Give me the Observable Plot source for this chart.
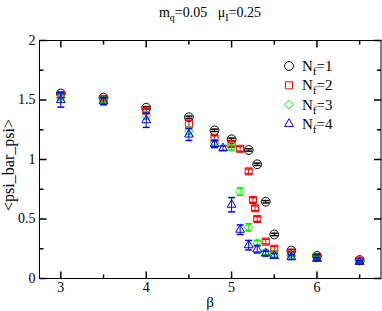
<!DOCTYPE html>
<html><head><meta charset="utf-8">
<script src="https://cdn.jsdelivr.net/npm/d3@7"></script>
<script src="https://cdn.jsdelivr.net/npm/@observablehq/plot@0.6"></script>
<style>body{margin:0;background:#fff} svg{display:block}</style>
</head><body><div id="chart"></div>
<script>
// Nf = 1
const beta1 = [3.0, 3.5, 4.0, 4.5, 4.8, 5.0, 5.2, 5.3, 5.4, 5.5, 5.7, 6.0, 6.5];
const psi1  = [1.555, 1.52, 1.435, 1.355, 1.245, 1.17, 1.08, 0.96, 0.645, 0.37, 0.235, 0.19, 0.155];
const err1  = [0.01, 0.01, 0.01, 0.01, 0.01, 0.01, 0.01, 0.01, 0.01, 0.01, 0.01, 0.01, 0.01];
// Nf = 2
const beta2 = [3.0, 3.5, 4.0, 4.5, 4.8, 5.0, 5.1, 5.2, 5.25, 5.275, 5.3, 5.4, 5.5, 5.7, 6.0, 6.5];
const psi2  = [1.54, 1.51, 1.41, 1.30, 1.18, 1.13, 1.09, 0.90, 0.66, 0.59, 0.50, 0.31, 0.25, 0.21, 0.18, 0.15];
const err2  = [0.02, 0.02, 0.02, 0.03, 0.02, 0.02, 0.02, 0.02, 0.02, 0.02, 0.02, 0.02, 0.02, 0.01, 0.01, 0.01];
// Nf = 3
const beta3 = [3.0, 3.5, 4.0, 4.5, 4.8, 5.0, 5.1, 5.2, 5.3, 5.4, 5.5, 5.7, 6.0, 6.5];
const psi3  = [1.52, 1.50, 1.37, 1.24, 1.14, 1.10, 0.73, 0.43, 0.30, 0.22, 0.20, 0.19, 0.17, 0.145];
const err3  = [0.02, 0.02, 0.03, 0.03, 0.02, 0.02, 0.03, 0.03, 0.02, 0.02, 0.02, 0.01, 0.01, 0.01];
// Nf = 4
const beta4 = [3.0, 3.5, 4.0, 4.5, 4.8, 4.9, 5.0, 5.1, 5.2, 5.3, 5.4, 5.5, 5.7, 6.0, 6.5];
const psi4  = [1.50, 1.49, 1.33, 1.21, 1.13, 1.095, 0.62, 0.41, 0.28, 0.245, 0.21, 0.19, 0.18, 0.165, 0.14];
const err4  = [0.06, 0.03, 0.06, 0.05, 0.03, 0.02, 0.06, 0.04, 0.04, 0.03, 0.02, 0.02, 0.02, 0.01, 0.01];

const seriesNames = ["1", "2", "3", "4"];
const xTicks = [3, 4, 5, 6];
const xMinor = [3.5, 4.5, 5.5, 6.5];
const yTicks = [0, 0.5, 1, 1.5, 2];
const yMinor = [0.25, 0.75, 1.25, 1.75];

const colors = ["#000000", "#ff0000", "#00f000", "#0000ff"];
const symbols = ["circle", "square", "diamond2", "triangle2"];
const radii = [4.4, 4.0, 3.9, 4.2];

const betas = [beta1, beta2, beta3, beta4];
const psis = [psi1, psi2, psi3, psi4];
const errs = [err1, err2, err3, err4];

const seg = (x1, y1, x2, y2) => ({draw(ctx) { ctx.moveTo(x1, y1); ctx.lineTo(x2, y2); }});

const XMIN = 2.75, XMAX = 6.75, YMIN = 0, YMAX = 2;
const MAJ = 7, MIN = 4;
const FONT = "Liberation Serif, serif";

const marks = [];
// ticks (inward, all four sides)
marks.push(Plot.dot(xTicks, {x: d => d, y: YMIN, symbol: seg(0, 0, 0, -MAJ), r: 1, stroke: "black", fill: "none"}));
marks.push(Plot.dot(xMinor, {x: d => d, y: YMIN, symbol: seg(0, 0, 0, -MIN), r: 1, stroke: "black", fill: "none"}));
marks.push(Plot.dot(xTicks, {x: d => d, y: YMAX, symbol: seg(0, 0, 0, MAJ), r: 1, stroke: "black", fill: "none"}));
marks.push(Plot.dot(xMinor, {x: d => d, y: YMAX, symbol: seg(0, 0, 0, MIN), r: 1, stroke: "black", fill: "none"}));
marks.push(Plot.dot(yTicks, {y: d => d, x: XMIN, symbol: seg(0, 0, MAJ, 0), r: 1, stroke: "black", fill: "none"}));
marks.push(Plot.dot(yMinor, {y: d => d, x: XMIN, symbol: seg(0, 0, MIN, 0), r: 1, stroke: "black", fill: "none"}));
marks.push(Plot.dot(yTicks, {y: d => d, x: XMAX, symbol: seg(0, 0, -MAJ, 0), r: 1, stroke: "black", fill: "none"}));
marks.push(Plot.dot(yMinor, {y: d => d, x: XMAX, symbol: seg(0, 0, -MIN, 0), r: 1, stroke: "black", fill: "none"}));

for (let s = 0; s < 4; s++) {
  const data = betas[s].map((b, i) => ({b, v: psis[s][i], e: errs[s][i]}));
  marks.push(Plot.ruleX(data, {x: "b", y1: d => d.v - d.e, y2: d => d.v + d.e, stroke: colors[s], strokeWidth: 1}));
  marks.push(Plot.dot(data, {x: "b", y: d => d.v - d.e, symbol: seg(-3.5, 0, 3.5, 0), r: 1, stroke: colors[s], fill: "none"}));
  marks.push(Plot.dot(data, {x: "b", y: d => d.v + d.e, symbol: seg(-3.5, 0, 3.5, 0), r: 1, stroke: colors[s], fill: "none"}));
  marks.push(Plot.dot(data, {x: "b", y: "v", symbol: symbols[s], r: radii[s], stroke: colors[s], fill: "none", strokeWidth: 1}));
}

marks.push(Plot.axisX({ticks: xTicks, tickSize: 0, tickPadding: 4, tickFormat: d => String(d), label: null, fontFamily: FONT, fontSize: 14}));
marks.push(Plot.axisY({ticks: yTicks, tickSize: 0, tickPadding: 4, tickFormat: d => String(d), label: null, fontFamily: FONT, fontSize: 14}));
marks.push(Plot.frame({stroke: "black", strokeWidth: 1}));

const chart = Plot.plot({
  width: 382, height: 311,
  marginLeft: 39, marginRight: 1.5, marginTop: 40, marginBottom: 33,
  x: {domain: [XMIN, XMAX], label: null},
  y: {domain: [YMIN, YMAX], label: null},
  style: {fontFamily: FONT, fontSize: "14px", background: "white", color: "black"},
  marks
});
document.getElementById("chart").appendChild(chart);

const svg = d3.select(chart);
const addText = (x, y, size, anchor) => svg.append("text").attr("x", x).attr("y", y)
  .attr("font-family", FONT).attr("font-size", size).attr("fill", "black").attr("text-anchor", anchor);
// title
const t = addText(210, 17, 14, "middle");
t.append("tspan").text("m");
t.append("tspan").attr("dy", 4).attr("font-size", 10).text("q");
t.append("tspan").attr("dy", -4).text("=0.05\u00a0\u00a0\u00a0\u03bc");
t.append("tspan").attr("dy", 4).attr("font-size", 10).text("I");
t.append("tspan").attr("dy", -4).text("=0.25");
// axis labels
addText(210, 307, 15, "middle").text("\u03b2");
addText(0, 0, 16, "middle").attr("transform", "translate(14,165) rotate(-90)").text("<psi_bar_psi>");
// legend
for (let s = 0; s < 4; s++) {
  const cy = 66 + 19.3 * s;
  const sym = {circle: d3.symbolCircle, square: d3.symbolSquare, diamond2: d3.symbolDiamond2, triangle2: d3.symbolTriangle2}[symbols[s]];
  svg.append("path").attr("transform", `translate(289,${cy})`)
    .attr("d", d3.symbol(sym, Math.PI * radii[s] * radii[s])())
    .attr("fill", "none").attr("stroke", colors[s]);
  const lt = addText(302, cy + 5, 15, "start");
  lt.append("tspan").text("N");
  lt.append("tspan").attr("dy", 4).attr("font-size", 11).text("f");
  lt.append("tspan").attr("dy", -4).text("=" + seriesNames[s]);
}
</script></body></html>
